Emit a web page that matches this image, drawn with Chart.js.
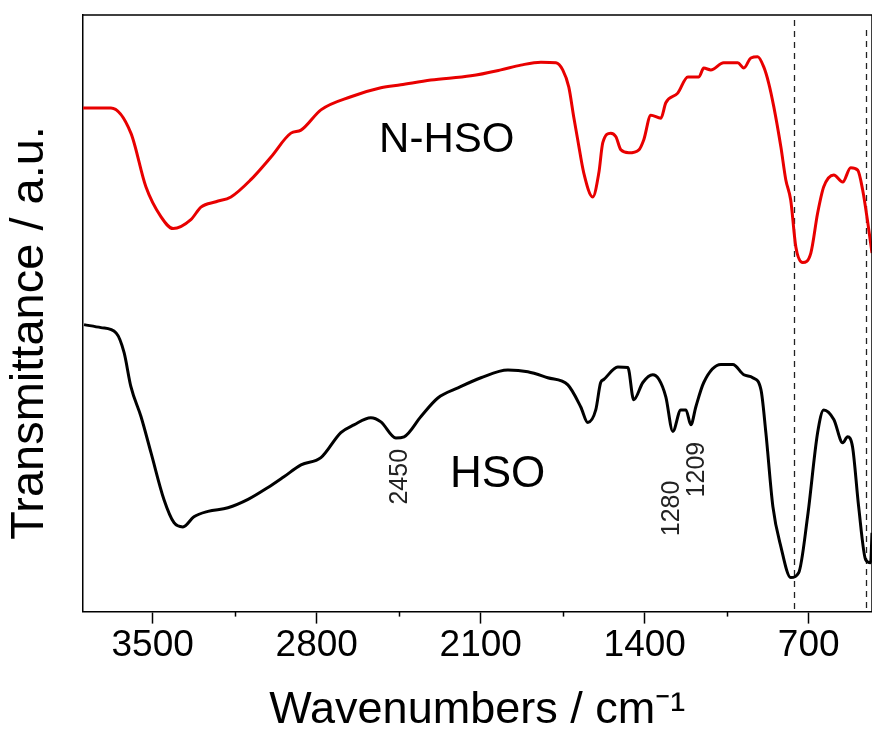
<!DOCTYPE html>
<html>
<head>
<meta charset="utf-8">
<style>
  html, body { margin: 0; padding: 0; background: #fff; }
  #wrap { width: 872px; height: 738px; }
</style>
<script src="https://cdn.jsdelivr.net/npm/chart.js@4.4.0/dist/chart.umd.min.js"></script>
</head>
<body>
<div id="wrap"><canvas id="ftir"></canvas></div>
<script>
// N-HSO spectrum (red), wavenumber / transmittance (a.u.)
const nhsoWn = [3797, 3678, 3593, 3529, 3465, 3413, 3337, 3294, 3230, 3166, 3081, 2995, 2910, 2867, 2782,
  2654, 2526, 2441, 2313, 2142, 2014, 1929, 1843, 1779, 1750, 1724, 1703, 1686, 1660, 1622, 1596, 1579,
  1545, 1523, 1502, 1468, 1425, 1404, 1374, 1331, 1310, 1259, 1216, 1169, 1148, 1118, 1063, 1003, 977,
  947, 918, 892, 871, 849, 819, 798, 777, 755, 726, 691, 662, 636, 593, 555, 521, 491, 470, 448, 430];
const nhsoT = [84.4, 84.4, 80.2, 71.2, 66.2, 64.2, 65.7, 67.8, 68.7, 69.5, 72.4, 76.2, 80.2, 80.7, 84.1,
  86.3, 87.8, 88.3, 89.1, 89.8, 90.8, 91.6, 92.1, 92.0, 90.8, 87.9, 82.9, 79.1, 73.5, 69.5, 73.5, 78.6,
  80.2, 79.6, 77.4, 76.9, 77.4, 79.1, 83.2, 82.7, 85.3, 86.9, 89.6, 89.6, 91.1, 90.8, 92.0, 92.0, 91.1,
  92.8, 93.0, 91.3, 88.6, 84.6, 77.9, 72.4, 69.0, 61.1, 58.5, 60.1, 66.8, 71.2, 73.2, 72.0, 74.4, 74.0,
  70.7, 65.2, 60.1];
// HSO spectrum (black)
const hsoWn = [3793, 3721, 3656, 3622, 3593, 3550, 3507, 3452, 3409, 3371, 3324, 3264, 3179, 3093, 3008,
  2940, 2867, 2782, 2697, 2641, 2569, 2526, 2462, 2427, 2355, 2283, 2197, 2099, 1984, 1899, 1814, 1728,
  1673, 1643, 1609, 1588, 1575, 1515, 1472, 1447, 1408, 1366, 1339, 1310, 1280, 1246, 1224, 1203, 1182,
  1148, 1075, 1024, 977, 939, 904, 883, 853, 819, 777, 743, 705, 662, 636, 593, 555, 534, 513, 487, 457,
  436, 430];
const hsoT = [48.1, 47.6, 46.7, 43.4, 37.7, 32.7, 26.6, 18.8, 14.9, 14.2, 15.9, 16.8, 17.4, 18.8, 20.8,
  22.6, 24.6, 25.8, 30.0, 31.3, 32.5, 31.8, 29.1, 29.3, 32.7, 35.8, 37.5, 39.2, 40.5, 40.2, 39.2, 38.0,
  34.3, 31.7, 33.8, 38.4, 38.9, 41.0, 40.9, 35.5, 38.4, 39.7, 38.9, 36.0, 30.2, 33.8, 33.8, 31.3, 34.3,
  38.4, 41.4, 41.4, 39.7, 39.2, 37.2, 30.0, 17.6, 10.9, 5.7, 6.5, 15.9, 30.0, 33.8, 32.2, 28.3, 29.3,
  27.6, 17.6, 8.7, 8.2, 13.2];

const majorTicks = [700, 1400, 2100, 2800, 3500];
const minorTicks = [1050, 1750, 2450, 3150];
const dashedAt = [765, 455];
const curveNames = ['N-HSO', 'HSO'];
const peakNames = ['2450', '1280', '1209'];

const FONT = "'Liberation Sans', Arial, sans-serif";
Chart.defaults.font.family = FONT;
Chart.defaults.color = '#000';

const toPoints = (xs, ys) => xs.map((x, i) => ({ x: x, y: ys[i] }));

// extra drawing: frame, minor ticks, dashed markers, curve + peak labels
const decorations = {
  id: 'decorations',
  beforeDatasetsDraw(chart) {
    const { ctx, chartArea: a, scales: { x } } = chart;
    ctx.save();
    ctx.strokeStyle = '#222';
    ctx.lineWidth = 1.3;
    ctx.setLineDash([6, 5]);
    dashedAt.forEach((v, i) => {
      const px = Math.round(x.getPixelForValue(v)) + 0.5;
      ctx.beginPath();
      ctx.moveTo(px, a.top + (i ? 15 : 5));
      ctx.lineTo(px, a.bottom);
      ctx.stroke();
    });
    ctx.restore();
  },
  afterDraw(chart) {
    const { ctx, chartArea: a, scales: { x, y } } = chart;
    ctx.save();
    ctx.strokeStyle = '#000';
    ctx.lineWidth = 1.5;
    ctx.beginPath();
    ctx.moveTo(a.left, a.top);
    ctx.lineTo(a.right, a.top);
    ctx.lineTo(a.right, a.bottom);
    ctx.stroke();
    minorTicks.forEach(v => {
      const px = Math.round(x.getPixelForValue(v)) + 0.5;
      ctx.beginPath();
      ctx.moveTo(px, a.bottom);
      ctx.lineTo(px, a.bottom + 5);
      ctx.stroke();
    });

    ctx.fillStyle = '#000';
    ctx.textAlign = 'center';
    ctx.textBaseline = 'middle';
    ctx.font = '42px ' + FONT;
    ctx.fillText(curveNames[0], x.getPixelForValue(2245), y.getPixelForValue(79));
    ctx.font = '44px ' + FONT;
    ctx.fillText(curveNames[1], x.getPixelForValue(2028), y.getPixelForValue(23));

    ctx.font = '25px ' + FONT;
    ctx.fillStyle = '#222';
    const peakPos = [[2445, 22.6], [1283, 17.3], [1177, 23.8]];
    peakNames.forEach((t, i) => {
      ctx.save();
      ctx.translate(x.getPixelForValue(peakPos[i][0]), y.getPixelForValue(peakPos[i][1]));
      ctx.rotate(-Math.PI / 2);
      ctx.fillText(t, 0, 0);
      ctx.restore();
    });
    ctx.restore();
  }
};

new Chart(document.getElementById('ftir'), {
  type: 'line',
  data: {
    datasets: [
      {
        label: 'N-HSO',
        data: toPoints(nhsoWn, nhsoT),
        borderColor: '#e80000',
        borderWidth: 3,
        cubicInterpolationMode: 'monotone',
        pointRadius: 0,
        fill: false
      },
      {
        label: 'HSO',
        data: toPoints(hsoWn, hsoT),
        borderColor: '#000',
        borderWidth: 3,
        cubicInterpolationMode: 'monotone',
        pointRadius: 0,
        fill: false
      }
    ]
  },
  options: {
    responsive: true,
    maintainAspectRatio: false,
    animation: false,
    layout: { padding: { top: 15, right: 0, bottom: 0, left: 0 } },
    plugins: {
      legend: { display: false },
      tooltip: { enabled: false }
    },
    scales: {
      x: {
        type: 'linear',
        reverse: true,
        min: 430,
        max: 3800,
        afterBuildTicks: s => { s.ticks = majorTicks.map(v => ({ value: v })); },
        ticks: {
          font: { size: 37 },
          padding: 0,
          maxRotation: 0,
          autoSkip: false,
          callback: v => String(v)
        },
        grid: { drawOnChartArea: false, tickLength: 12, tickWidth: 1.5, tickColor: '#000' },
        border: { color: '#000', width: 1.5 },
        title: {
          display: true,
          text: 'Wavenumbers / cm\u207B\u00B9',
          font: { size: 45 },
          padding: { top: 16, bottom: 0 }
        }
      },
      y: {
        min: 0,
        max: 100,
        ticks: { display: false },
        grid: { display: false, drawTicks: false },
        border: { color: '#000', width: 1.5 },
        title: {
          display: true,
          text: 'Transmittance / a.u.   ',
          font: { size: 47 },
          padding: { top: 2, bottom: 24 }
        }
      }
    }
  },
  plugins: [decorations]
});
</script>
</body>
</html>
